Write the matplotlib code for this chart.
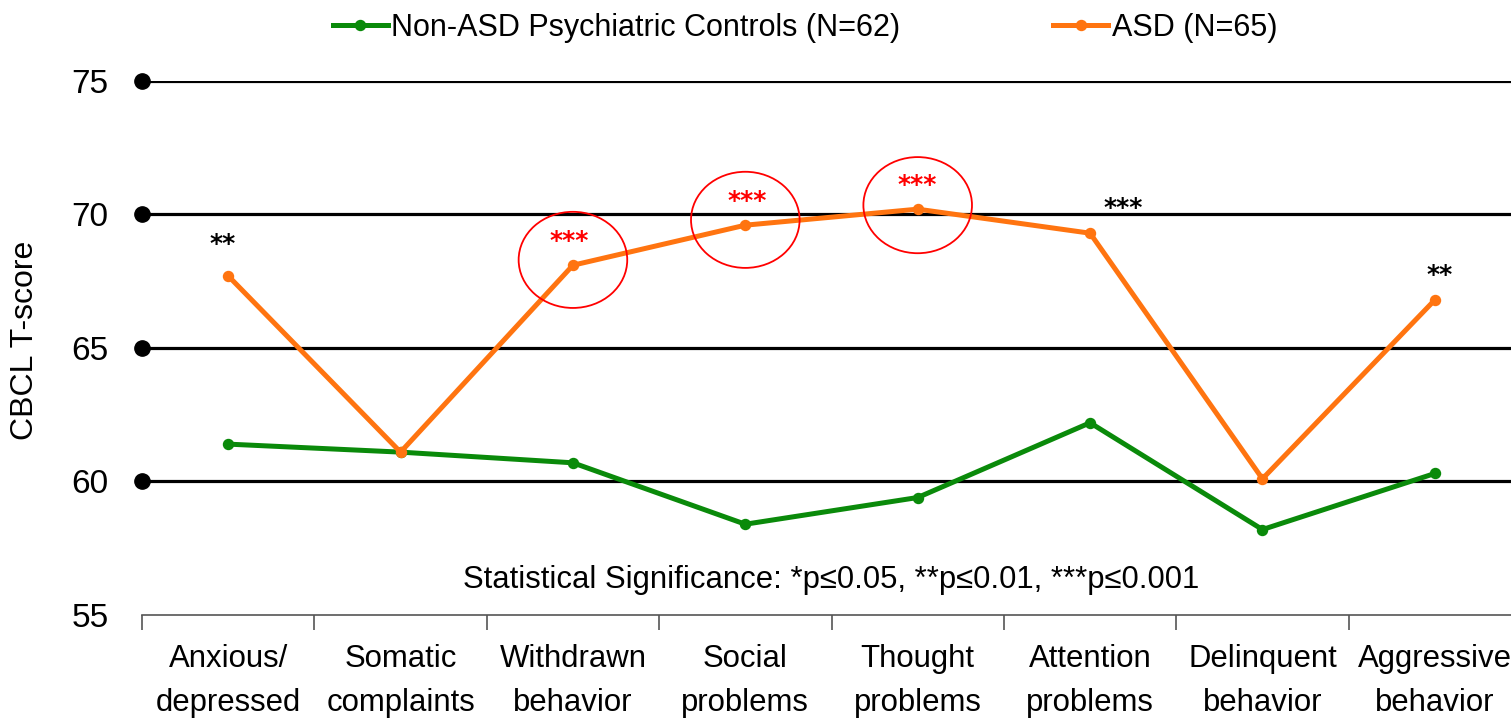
import matplotlib.pyplot as plt
from matplotlib.patches import Ellipse

plt.rcParams['font.family'] = ['Liberation Sans', 'DejaVu Sans']

categories = ["Anxious/\ndepressed", "Somatic\ncomplaints", "Withdrawn\nbehavior",
              "Social\nproblems", "Thought\nproblems", "Attention\nproblems",
              "Delinquent\nbehavior", "Aggressive\nbehavior"]
controls = [61.4, 61.1, 60.7, 58.4, 59.4, 62.2, 58.2, 60.3]
asd = [67.7, 61.1, 68.1, 69.6, 70.2, 69.3, 60.1, 66.8]
yticks = [55, 60, 65, 70, 75]

# significance marks: (category index, text, colour, x offset, y)
stars = [(0, "**", "black", -0.03, 68.9), (2, "***", "red", -0.02, 69.0),
         (3, "***", "red", 0.01, 70.5), (4, "***", "red", 0.0, 71.1),
         (5, "***", "black", 0.19, 70.25), (7, "**", "black", 0.03, 67.75)]
circled = [(2, 68.3), (3, 69.8), (4, 70.35)]

green = "#0a8a0a"
orange = "#ff7410"

fig = plt.figure(figsize=(15.11, 7.24), dpi=100)
ax = fig.add_axes([142 / 1511, 109 / 724, 1379 / 1511, 534 / 724])
x = list(range(len(categories)))

for y in yticks[1:]:
    ax.axhline(y, color="black", lw=2.3, zorder=1)
ax.plot([-0.5] * 4, yticks[1:], "o", color="black", ms=11, clip_on=False, zorder=3)

ax.plot(x, controls, "-o", color=green, lw=3.6, ms=7.2, zorder=4,
        label="Non-ASD Psychiatric Controls (N=62)")
ax.plot(x, asd, "-o", color=orange, lw=3.6, ms=7.2, zorder=5, label="ASD (N=65)")

for i, yc in circled:
    ax.add_patch(Ellipse((i, yc), 0.63, 3.6, fill=False, edgecolor="red", lw=1.3, zorder=6))
for i, s, c, dx, y in stars:
    ax.text(i + dx, y, s, color=c, fontsize=18, fontweight="bold", ha="center", va="center",
            family="DejaVu Sans", zorder=7)

ax.text(3.5, 56.3, "Statistical Significance: *p\u22640.05, **p\u22640.01, ***p\u22640.001",
        fontsize=22.3, ha="center", va="center")

ax.set_xlim(-0.5, len(categories) - 0.5)
ax.set_ylim(55, 75)
ax.set_yticks(yticks)
ax.set_xticks(x)
ax.set_xticklabels(categories, fontsize=22.4, linespacing=1.6)
ax.set_xticks([i - 0.5 for i in range(len(categories) + 1)], minor=True)
ax.tick_params(axis="x", which="major", length=0, pad=21)
ax.tick_params(axis="x", which="minor", length=11, width=1.2, color="#555555")
ax.tick_params(axis="y", length=0, labelsize=24, pad=24)
ax.set_ylabel("CBCL T-score", fontsize=23)
ax.yaxis.set_label_coords(-0.074, 0.515)
for side in ["top", "right", "left"]:
    ax.spines[side].set_visible(False)
ax.spines["bottom"].set_color("#555555")
ax.spines["bottom"].set_linewidth(1.2)

fig.legend(loc="center", bbox_to_anchor=(805 / 1511, 1 - 28 / 724), ncol=2, frameon=False,
           fontsize=22, handlelength=1.8, handletextpad=0.12, columnspacing=5.0)

fig.savefig("out.png", dpi=100)
